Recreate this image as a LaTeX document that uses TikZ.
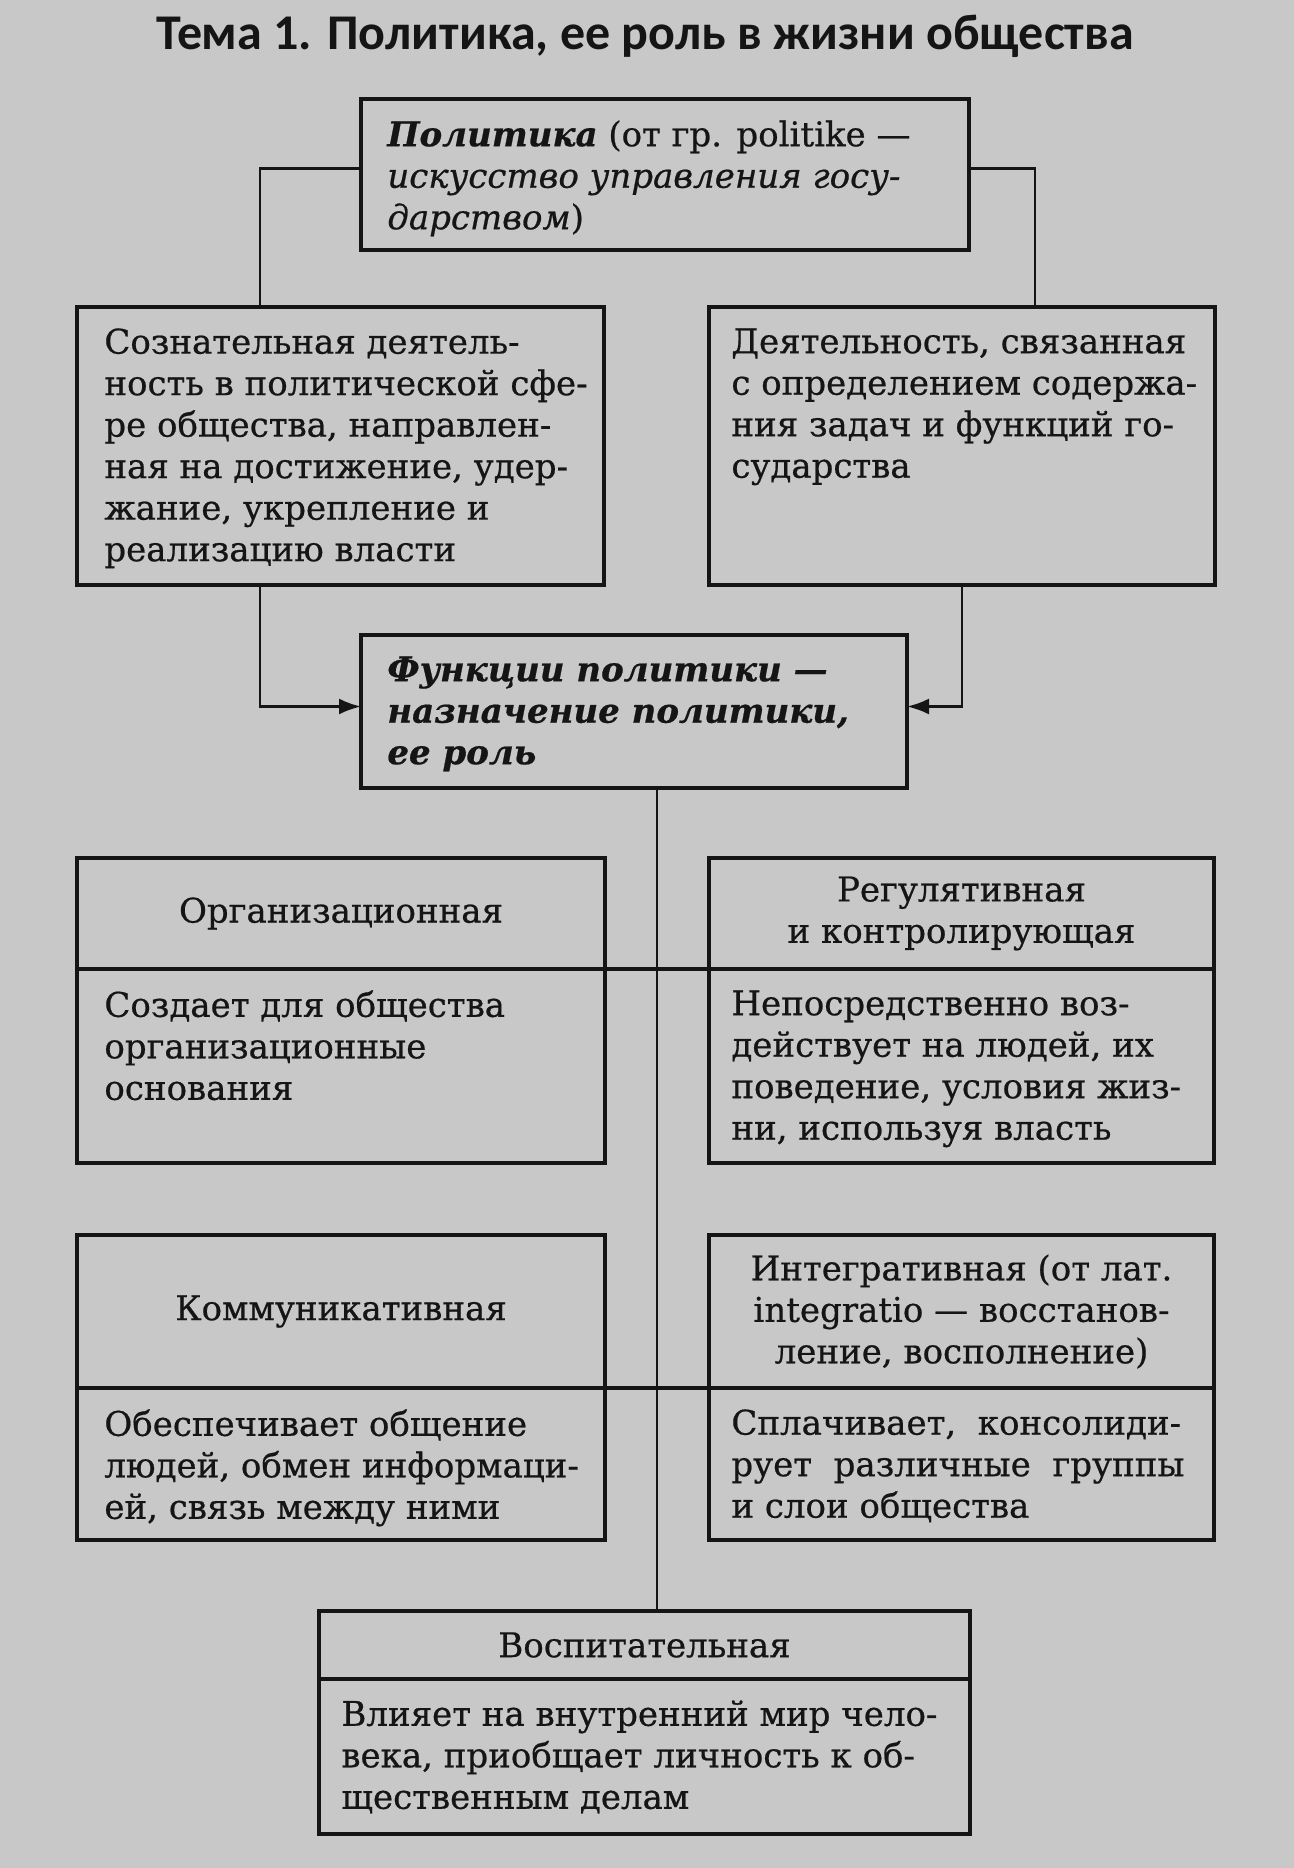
\documentclass[tikz,border=0pt]{standalone}
\usepackage{fontspec}
\setmainfont{DejaVu Serif}[FakeBold=0.6]
\newfontfamily\titlefont{Carlito}
\usetikzlibrary{arrows.meta,positioning}
\definecolor{ppaper}{HTML}{C8C8C8}
\definecolor{pink}{HTML}{151515}
\tikzset{
  pbox/.style 2 args={draw=pink, line width=1.6pt, outer sep=0pt, inner sep=0pt,
    minimum width=#1*0.5pt, minimum height=#2*0.5pt},
  headText/.style={font=\fontsize{17}{20.75}\selectfont, align=center, text=pink},
  bodyText/.style={font=\fontsize{17}{20.75}\selectfont, align=left, inner sep=0pt, text=pink, anchor=north west},
  titleText/.style={font=\titlefont\bfseries\fontsize{25}{30}\selectfont, text=pink},
  pLink/.style={draw=pink, line width=1.3pt},
  pArrow/.style={pLink, -{Latex[length=11pt,width=8pt]}}
}
\begin{document}
\begin{tikzpicture}[x=0.5pt,y=-0.5pt]
  \fill[ppaper] (0,0) rectangle (1294,1868);
  \node[titleText] (title) at (645,36) {Тема 1. Политика, ее роль в жизни общества};

  % upper part
  \node[pbox={608}{151}] (pol) at (665,174.5) {};
  \node[pbox={527}{278}] (act1) at (340.5,446) {};
  \node[pbox={506}{278}] (act2) at (962,446) {};
  \node[pbox={546}{153}] (funk) at (634,711.5) {};

  \node[bodyText] (polT) at ([xshift=13pt,yshift=-10.5pt]pol.north west)
    {\textbf{\textit{Политика}} (от гр. politike —\\ \textit{искусство управления госу-}\\ \textit{дарством})};
  \node[bodyText] (act1T) at ([xshift=13.5pt,yshift=-10.5pt]act1.north west)
    {Сознательная деятель-\\ ность в политической сфе-\\ ре общества, направлен-\\ ная на достижение, удер-\\ жание, укрепление и\\ реализацию власти};
  \node[bodyText] (act2T) at ([xshift=11pt,yshift=-10.5pt]act2.north west)
    {Деятельность, связанная\\ с определением содержа-\\ ния задач и функций го-\\ сударства};
  \node[bodyText] (funkT) at ([xshift=13pt,yshift=-10.5pt]funk.north west)
    {\textbf{\textit{Функции политики —}}\\ \textbf{\textit{назначение политики,}}\\ \textbf{\textit{ее роль}}};

  % functions
  \node[pbox={528}{111}, headText] (orgH) at (341,913.5) {Организационная};
  \node[pbox={528}{194}, below=0pt of orgH] (orgB) {};
  \node[pbox={505}{111}, headText, right=52pt of orgH] (regH) {Регулятивная\\ и контролирующая};
  \node[pbox={505}{194}, below=0pt of regH] (regB) {};
  \node[pbox={528}{153}, headText] (komH) at (341,1311.5) {Коммуникативная};
  \node[pbox={528}{152}, below=0pt of komH] (komB) {};
  \node[pbox={505}{153}, headText, right=52pt of komH] (intH) {Интегративная (от лат.\\ integratio — восстанов-\\ ление, восполнение)};
  \node[pbox={505}{152}, below=0pt of intH] (intB) {};
  \node[pbox={651}{68}, headText] (vosH) at (644.5,1645) {Воспитательная};
  \node[pbox={651}{155}, below=0pt of vosH] (vosB) {};

  \node[bodyText] (orgT) at ([xshift=13.5pt,yshift=-10.5pt]orgB.north west)
    {Создает для общества\\ организационные\\ основания};
  \node[bodyText] (regT) at ([xshift=11pt,yshift=-10.5pt]regB.north west)
    {Непосредственно воз-\\ действует на людей, их\\ поведение, условия жиз-\\ ни, используя власть};
  \node[bodyText] (komT) at ([xshift=13.5pt,yshift=-10.5pt]komB.north west)
    {Обеспечивает общение\\ людей, обмен информаци-\\ ей, связь между ними};
  \node[bodyText] (intT) at ([xshift=11pt,yshift=-10.5pt]intB.north west)
    {Сплачивает,\ \ консолиди-\\ рует\ \ различные\ \ группы\\ и слои общества};
  \node[bodyText] (vosT) at ([xshift=11pt,yshift=-10.5pt]vosB.north west)
    {Влияет на внутренний мир чело-\\ века, приобщает личность к об-\\ щественным делам};

  % connectors
  \coordinate (lx) at (260,0);
  \coordinate (rx) at (1035,0);
  \coordinate (spine) at (657,0);
  \draw[pLink] ([yshift=3pt]pol.west) -| (act1.north -| lx);
  \draw[pLink] ([yshift=3pt]pol.east) -| (act2.north -| rx);
  \draw[pArrow] (act1.south -| lx) |- ([yshift=2.5pt]funk.west);
  \draw[pArrow] (act2.south) |- ([yshift=2.5pt]funk.east);
  \draw[pLink] (funk.south -| spine) -- (vosH.north -| spine);
  \draw[pbox={0}{0}] (orgH.south east) -- (regH.south west);
  \draw[pbox={0}{0}] (komH.south east) -- (intH.south west);
\end{tikzpicture}
\end{document}
